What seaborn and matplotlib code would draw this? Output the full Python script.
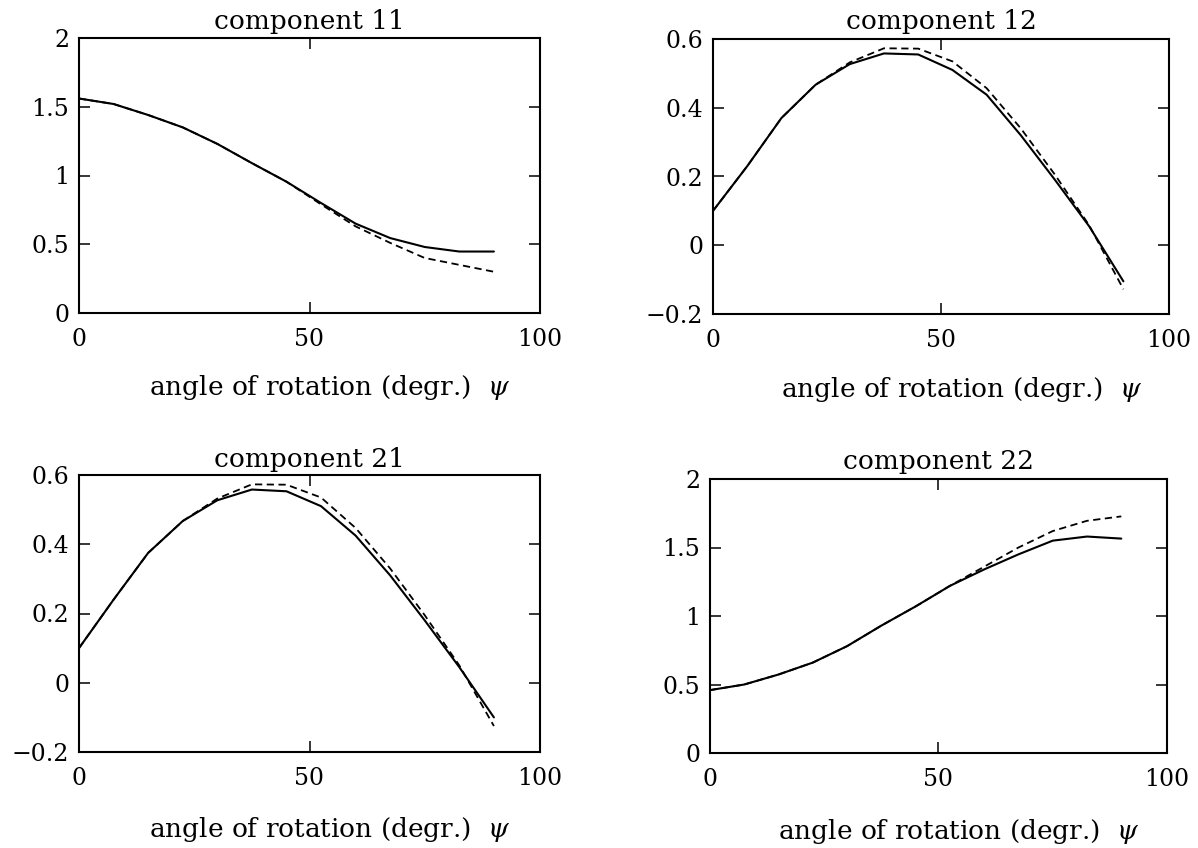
import numpy as np
import pandas as pd
import seaborn as sns
import matplotlib
matplotlib.use("Agg")
import matplotlib.pyplot as plt

# Data
angle = [0, 7.5, 15, 22.5, 30, 37.5, 45, 52.5, 60, 67.5, 75, 82.5, 90]

c11_solid = [1.56, 1.52, 1.44, 1.35, 1.23, 1.09, 0.955, 0.80, 0.65, 0.545, 0.48, 0.447, 0.447]
c11_dash = [1.56, 1.52, 1.44, 1.35, 1.23, 1.09, 0.955, 0.79, 0.63, 0.51, 0.40, 0.35, 0.30]

c12_solid = [0.10, 0.23, 0.37, 0.467, 0.527, 0.558, 0.555, 0.51, 0.438, 0.32, 0.19, 0.055, -0.105]
c12_dash = [0.10, 0.23, 0.37, 0.467, 0.532, 0.573, 0.572, 0.535, 0.457, 0.34, 0.205, 0.058, -0.128]

c21_solid = [0.10, 0.24, 0.375, 0.467, 0.527, 0.558, 0.553, 0.51, 0.425, 0.31, 0.18, 0.045, -0.10]
c21_dash = [0.10, 0.24, 0.375, 0.467, 0.532, 0.573, 0.572, 0.535, 0.447, 0.33, 0.195, 0.05, -0.125]

c22_solid = [0.459, 0.50, 0.573, 0.66, 0.78, 0.93, 1.07, 1.22, 1.34, 1.45, 1.55, 1.58, 1.565]
c22_dash = [0.459, 0.50, 0.573, 0.66, 0.78, 0.93, 1.07, 1.22, 1.36, 1.50, 1.62, 1.695, 1.727]

titles = ["component 11", "component 12", "component 21", "component 22"]
series = [(c11_solid, c11_dash), (c12_solid, c12_dash), (c21_solid, c21_dash), (c22_solid, c22_dash)]
ylims = [(0, 2), (-0.2, 0.6), (-0.2, 0.6), (0, 2)]
yticks = [[0, 0.5, 1, 1.5, 2], [-0.2, 0, 0.2, 0.4, 0.6], [-0.2, 0, 0.2, 0.4, 0.6], [0, 0.5, 1, 1.5, 2]]
ytlabels = [["0", "0.5", "1", "1.5", "2"], ["\u22120.2", "0", "0.2", "0.4", "0.6"],
            ["\u22120.2", "0", "0.2", "0.4", "0.6"], ["0", "0.5", "1", "1.5", "2"]]
xticks = [0, 50, 100]
xlabel = "angle of rotation (degr.)  $\\psi$"

sns.set_style("ticks")
plt.rcParams["font.family"] = ["DejaVu Serif"]
plt.rcParams["mathtext.fontset"] = "dejavuserif"
plt.rcParams["text.color"] = "black"
plt.rcParams["axes.labelcolor"] = "black"
plt.rcParams["xtick.color"] = "black"
plt.rcParams["ytick.color"] = "black"

W, H = 1198, 848
fig = plt.figure(figsize=(W / 100, H / 100), dpi=100)

# pixel boxes: left, top, right, bottom
boxes = [(79, 38, 540, 313), (713, 39, 1169, 314), (79, 475, 540, 752), (710, 479, 1167, 753)]
xlabel_centers = [388, 389, 830, 832]
title_centers = [22, 22, 460, 462]

for i, (l, t, r, b) in enumerate(boxes):
    ax = fig.add_axes([l / W, 1 - b / H, (r - l) / W, (b - t) / H])
    h = b - t
    s, d = series[i]
    df = pd.DataFrame({"angle": angle * 2, "value": s + d,
                       "kind": ["solid"] * len(angle) + ["dashed"] * len(angle)})
    sns.lineplot(data=df[df.kind == "solid"], x="angle", y="value", ax=ax,
                 color="black", linewidth=1.5, estimator=None)
    sns.lineplot(data=df[df.kind == "dashed"], x="angle", y="value", ax=ax,
                 color="black", linewidth=1.3, linestyle=(0, (4, 2.5)), estimator=None)
    ax.set_xlim(0, 100)
    ax.set_ylim(*ylims[i])
    ax.set_xticks(xticks)
    ax.set_xticklabels([str(v) for v in xticks])
    ax.set_yticks(yticks[i])
    ax.set_yticklabels(ytlabels[i])
    ax.tick_params(direction="in", length=8, width=1.1, top=True, right=True,
                   labelsize=17, pad=7, color="black")
    ax.tick_params(axis="x", pad=11)
    for sp in ax.spines.values():
        sp.set_linewidth(1.5)
        sp.set_color("black")
    ax.text(0.5, 1 + (t - title_centers[i]) / h, titles[i], transform=ax.transAxes,
            ha="center", va="center", fontsize=19)
    ax.set_xlabel(xlabel, fontsize=19)
    ax.xaxis.label.set_va("center")
    ax.xaxis.set_label_coords(0.545, -(xlabel_centers[i] - b) / h)
    ax.set_ylabel("")

fig.savefig("out.png", dpi=100, facecolor="white")
